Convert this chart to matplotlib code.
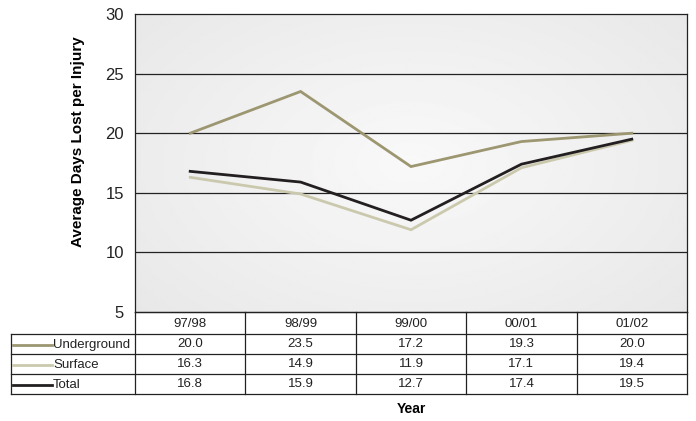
import matplotlib
matplotlib.use('Agg')
import matplotlib.pyplot as plt
import numpy as np

years = ['97/98', '98/99', '99/00', '00/01', '01/02']
series_names = ['Underground', 'Surface', 'Total']
underground = [20.0, 23.5, 17.2, 19.3, 20.0]
surface = [16.3, 14.9, 11.9, 17.1, 19.4]
total = [16.8, 15.9, 12.7, 17.4, 19.5]
series = [underground, surface, total]
colors = ['#9c9671', '#cbc9ad', '#231f20']

plt.rcParams['font.family'] = ['Liberation Sans', 'DejaVu Sans']

W, H = 696, 421
fig = plt.figure(figsize=(W / 100, H / 100), dpi=100)

# pixel layout
left, right, top, bottom = 135, 687, 14, 312
ax = fig.add_axes([left / W, 1 - bottom / H, (right - left) / W, (bottom - top) / H])

# soft radial gray background
yy, xx = np.mgrid[0:1:200j, 0:1:300j]
r = np.sqrt(((xx - 0.5) / 0.7) ** 2 + ((yy - 0.5) / 0.8) ** 2)
bg = 0.975 - 0.07 * np.clip(r, 0, 1.2)
ax.imshow(bg, cmap='gray', vmin=0, vmax=1, extent=[-0.5, 4.5, 5, 30],
          aspect='auto', zorder=0, interpolation='bilinear')

x = np.arange(len(years))
for vals, c in zip(series, colors):
    ax.plot(x, vals, color=c, lw=2.0, zorder=3, solid_joinstyle='miter')

ax.set_xlim(-0.5, 4.5)
ax.set_ylim(5, 30)
ax.set_yticks([5, 10, 15, 20, 25, 30])
for yv in [10, 15, 20, 25]:
    ax.axhline(yv, color='#222222', lw=0.9, zorder=2)
ax.set_xticks([])
ax.tick_params(axis='y', length=0, labelsize=12, pad=8, colors='#222222')
for s in ax.spines.values():
    s.set_color('#222222')
    s.set_linewidth(0.9)
ax.set_ylabel('Average Days Lost per Injury', fontsize=11, fontweight='bold')
ax.yaxis.set_label_coords((85 - left) / (right - left), (bottom - 142) / (bottom - top))

# data table drawn in pixel coordinates
tab = fig.add_axes([0, 0, 1, 1], zorder=5)
tab.set_xlim(0, W)
tab.set_ylim(H, 0)
tab.axis('off')
tab.patch.set_alpha(0)

tl = 11
col_w = (right - left) / len(years)
row_y = [312, 334, 354, 374, 394]
lc = '#222222'
tab.plot([left, right], [row_y[0], row_y[0]], color=lc, lw=0.9)
for yv in row_y[1:]:
    tab.plot([tl, right], [yv, yv], color=lc, lw=0.9)
tab.plot([tl, tl], [row_y[1], row_y[-1]], color=lc, lw=0.9)
for i in range(len(years) + 1):
    xv = left + i * col_w
    tab.plot([xv, xv], [row_y[0], row_y[-1]], color=lc, lw=0.9)

for i, yr in enumerate(years):
    tab.text(left + (i + 0.5) * col_w, (row_y[0] + row_y[1]) / 2 + 1, yr,
             ha='center', va='center', fontsize=9.5, color='#222222')

for r_i, (name, vals, c) in enumerate(zip(series_names, series, colors)):
    yc = (row_y[r_i + 1] + row_y[r_i + 2]) / 2
    tab.plot([13, 52], [yc + 1, yc + 1], color=c, lw=2.0)
    tab.text(53, yc + 1, name, ha='left', va='center', fontsize=9.5, color='#222222')
    for i, v in enumerate(vals):
        tab.text(left + (i + 0.5) * col_w, yc, '%.1f' % v,
                 ha='center', va='center', fontsize=9.5, color='#222222')

tab.text((left + right) / 2, 409, 'Year', ha='center', va='center',
         fontsize=10, fontweight='bold')

fig.savefig('out.png', dpi=100)
